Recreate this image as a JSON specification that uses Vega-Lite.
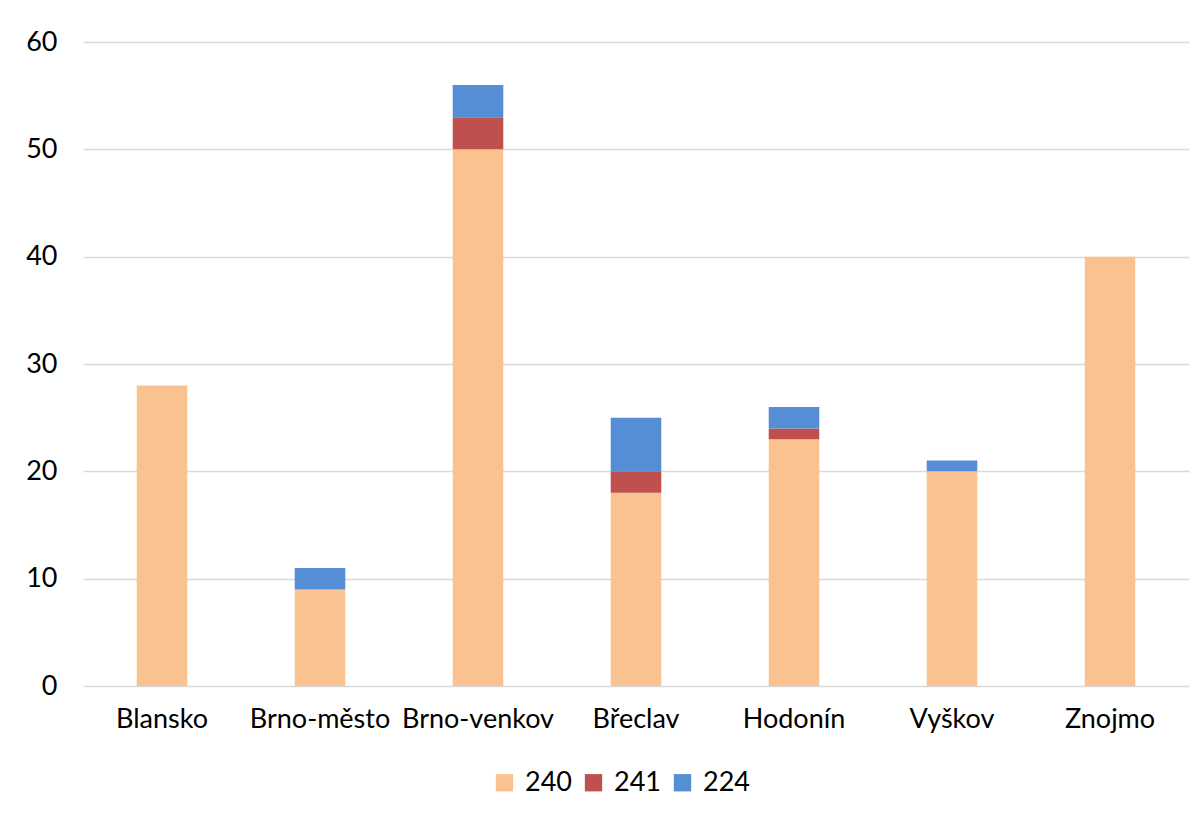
{
  "$schema": "https://vega.github.io/schema/vega-lite/v6.json",
  "autosize": "none",
  "width": 1106,
  "height": 644,
  "padding": {"left": 83, "top": 42, "right": 15, "bottom": 130},
  "background": "white",
  "config": {
    "font": "Lato",
    "view": {"stroke": null}
  },
  "data": {
    "values": [
      {"okres": "Blansko", "kod": "240", "poradi": 1, "pocet": 28},
      {"okres": "Brno-město", "kod": "240", "poradi": 1, "pocet": 9},
      {"okres": "Brno-město", "kod": "224", "poradi": 3, "pocet": 2},
      {"okres": "Brno-venkov", "kod": "240", "poradi": 1, "pocet": 50},
      {"okres": "Brno-venkov", "kod": "241", "poradi": 2, "pocet": 3},
      {"okres": "Brno-venkov", "kod": "224", "poradi": 3, "pocet": 3},
      {"okres": "Břeclav", "kod": "240", "poradi": 1, "pocet": 18},
      {"okres": "Břeclav", "kod": "241", "poradi": 2, "pocet": 2},
      {"okres": "Břeclav", "kod": "224", "poradi": 3, "pocet": 5},
      {"okres": "Hodonín", "kod": "240", "poradi": 1, "pocet": 23},
      {"okres": "Hodonín", "kod": "241", "poradi": 2, "pocet": 1},
      {"okres": "Hodonín", "kod": "224", "poradi": 3, "pocet": 2},
      {"okres": "Vyškov", "kod": "240", "poradi": 1, "pocet": 20},
      {"okres": "Vyškov", "kod": "224", "poradi": 3, "pocet": 1},
      {"okres": "Znojmo", "kod": "240", "poradi": 1, "pocet": 40}
    ]
  },
  "mark": {"type": "bar"},
  "encoding": {
    "x": {
      "field": "okres",
      "type": "nominal",
      "sort": ["Blansko", "Brno-město", "Brno-venkov", "Břeclav", "Hodonín", "Vyškov", "Znojmo"],
      "scale": {"paddingInner": 0.68, "paddingOuter": 0.34},
      "axis": {
        "title": null,
        "labelAngle": 0,
        "labelFontSize": 27,
        "labelColor": "#000000",
        "labelPadding": 20,
        "ticks": false,
        "domain": false
      }
    },
    "y": {
      "field": "pocet",
      "type": "quantitative",
      "stack": "zero",
      "scale": {"domain": [0, 60]},
      "axis": {
        "title": null,
        "values": [0, 10, 20, 30, 40, 50, 60],
        "labelFontSize": 27,
        "labelColor": "#000000",
        "labelPadding": 26,
        "ticks": false,
        "domain": false,
        "gridColor": "#D9D9D9",
        "gridWidth": 1.5
      }
    },
    "color": {
      "field": "kod",
      "type": "nominal",
      "sort": ["240", "241", "224"],
      "scale": {"domain": ["240", "241", "224"], "range": ["#F9C290", "#C0504D", "#558ED5"]},
      "legend": {
        "title": null,
        "orient": "none",
        "legendX": 408,
        "legendY": 727,
        "direction": "horizontal",
        "symbolType": "square",
        "symbolSize": 300,
        "symbolStrokeWidth": 0,
        "symbolOpacity": 1,
        "labelFontSize": 27,
        "labelColor": "#000000",
        "labelOffset": 7,
        "columnPadding": 8
      }
    },
    "order": {"field": "poradi", "type": "quantitative"}
  }
}
